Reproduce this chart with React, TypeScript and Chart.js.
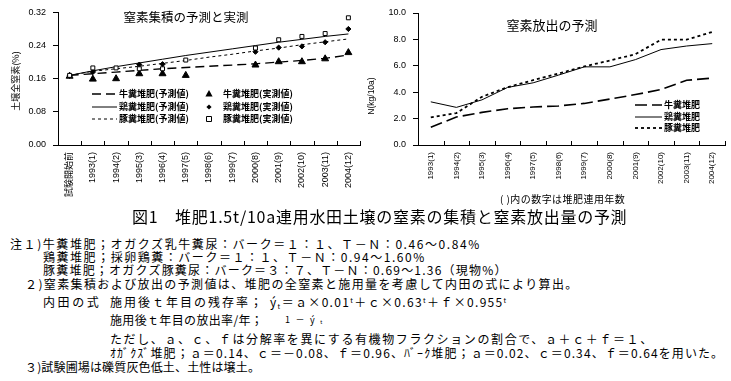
import React, { useEffect, useLayoutEffect, useRef } from 'react';
import { Chart, registerables } from 'chart.js';
Chart.register(...registerables);

// ---------- data: left chart (soil total N, %) ----------
const accCategories = ['試験開始前', '1993(1)', '1994(2)', '1995(3)', '1996(4)', '1997(5)', '1998(6)', '1999(7)', '2000(8)', '2001(9)', '2002(10)', '2003(11)', '2004(12)'];
const accYMin = 0;
const accYMax = 0.32;
const accYStep = 0.08;
const cattlePred = [0.168, 0.172, 0.176, 0.180, 0.184, 0.187, 0.190, 0.193, 0.196, 0.200, 0.204, 0.209, 0.217];
const chickenPred = [0.168, 0.179, 0.189, 0.198, 0.207, 0.216, 0.224, 0.232, 0.240, 0.248, 0.255, 0.262, 0.268];
const pigPred = [0.168, 0.178, 0.184, 0.190, 0.197, 0.204, 0.212, 0.219, 0.227, 0.234, 0.242, 0.249, 0.256];
const cattleObs = [0.166, 0.159, 0.160, 0.172, 0.172, 0.168, null, null, 0.193, 0.201, 0.201, 0.208, 0.223];
const chickenObs = [0.167, 0.176, null, 0.194, 0.195, null, null, null, 0.225, 0.235, 0.238, 0.248, 0.280];
const pigObs = [0.168, 0.186, 0.186, 0.184, 0.184, 0.205, null, null, 0.234, 0.254, 0.262, 0.269, 0.307];

// ---------- data: right chart (N release, kg/10a) ----------
const relCategories = ['1993(1)', '1994(2)', '1995(3)', '1996(4)', '1997(5)', '1998(6)', '1999(7)', '2000(8)', '2001(9)', '2002(10)', '2003(11)', '2004(12)'];
const relYMin = 0;
const relYMax = 10;
const relYStep = 2;
const cattleRel = [1.34, 2.12, 2.47, 2.75, 2.88, 2.96, 3.15, 3.48, 3.82, 4.2, 4.9, 5.07];
const chickenRel = [3.27, 2.85, 3.42, 4.36, 4.71, 5.3, 5.92, 5.92, 6.47, 7.23, 7.5, 7.68];
const pigRel = [2.09, 2.42, 3.65, 4.38, 4.91, 5.42, 5.95, 6.4, 6.88, 7.98, 7.98, 8.56];

// ---------- texts ----------
const accTitle = '窒素集積の予測と実測';
const accYTitle = '土壌全窒素(%)';
const accLegendPred = ['牛糞堆肥(予測値)', '鶏糞堆肥(予測値)', '豚糞堆肥(予測値)'];
const accLegendObs = ['牛糞堆肥(実測値)', '鶏糞堆肥(実測値)', '豚糞堆肥(実測値)'];
const relTitle = '窒素放出の予測';
const relYTitle = 'N(kg/10a)';
const relLegend = ['牛糞堆肥', '鶏糞堆肥', '豚糞堆肥'];
const relCaption = '( )内の数字は堆肥連用年数';

const TICK_FONT = '"Liberation Sans", "Noto Sans CJK JP", sans-serif';
const JP_FONT = '"Noto Sans CJK JP", "Liberation Sans", sans-serif';
const NOTE_FONT = '"Noto Sans CJK JP", sans-serif';

function drawLegendLine(ctx: CanvasRenderingContext2D, x1: number, x2: number, y: number, dash: number[], width: number) {
  ctx.save();
  ctx.setLineDash(dash);
  ctx.lineWidth = width;
  ctx.strokeStyle = '#000';
  ctx.beginPath();
  ctx.moveTo(x1, y);
  ctx.lineTo(x2, y);
  ctx.stroke();
  ctx.restore();
}

function drawMarker(ctx: CanvasRenderingContext2D, kind: string, x: number, y: number) {
  ctx.save();
  ctx.setLineDash([]);
  ctx.lineWidth = 1;
  ctx.strokeStyle = '#000';
  ctx.fillStyle = '#000';
  ctx.beginPath();
  if (kind === 'triangle') {
    ctx.moveTo(x, y - 4);
    ctx.lineTo(x + 3.6, y + 2.5);
    ctx.lineTo(x - 3.6, y + 2.5);
    ctx.closePath();
    ctx.fill();
  } else if (kind === 'diamond') {
    ctx.moveTo(x, y - 2.6);
    ctx.lineTo(x + 2.6, y);
    ctx.lineTo(x, y + 2.6);
    ctx.lineTo(x - 2.6, y);
    ctx.closePath();
    ctx.fill();
  } else {
    ctx.fillStyle = '#fff';
    ctx.rect(x - 2.5, y - 2.5, 5, 5);
    ctx.fill();
    ctx.stroke();
  }
  ctx.restore();
}

function drawInnerXTicks(chart: any) {
  const { ctx, chartArea: a } = chart;
  const xs = chart.scales.x;
  const n = xs.getLabels().length;
  ctx.save();
  ctx.strokeStyle = '#000';
  ctx.lineWidth = 1;
  ctx.setLineDash([]);
  ctx.beginPath();
  for (let i = 0; i < n; i++) {
    const c = xs.getPixelForValue(i);
    const half = n > 1 ? (xs.getPixelForValue(1) - xs.getPixelForValue(0)) / 2 : 0;
    const x = Math.round(c + half) + 0.5;
    ctx.moveTo(x, a.bottom);
    ctx.lineTo(x, a.bottom - 4);
  }
  ctx.stroke();
  ctx.restore();
}

const accDecor = {
  id: 'accDecor',
  afterDraw(chart: any) {
    const { ctx } = chart;
    drawInnerXTicks(chart);
    ctx.save();
    ctx.fillStyle = '#000';
    ctx.textBaseline = 'middle';
    // title
    ctx.font = `12.5px ${JP_FONT}`;
    ctx.textAlign = 'center';
    ctx.fillText(accTitle, 186, 17);
    // y title
    ctx.save();
    ctx.translate(16, 81);
    ctx.rotate(-Math.PI / 2);
    ctx.font = `9px ${JP_FONT}`;
    ctx.fillText(accYTitle, 0, 0);
    ctx.restore();
    // legend
    const rows = [94, 107, 119];
    const dashes = [[9, 5], [], [3, 3]];
    const widths = [1.3, 1, 1];
    const marks = ['triangle', 'diamond', 'square'];
    ctx.font = `bold 9px ${JP_FONT}`;
    ctx.textAlign = 'left';
    rows.forEach((ry, i) => {
      drawLegendLine(ctx, 92, 117, ry, dashes[i], widths[i]);
      ctx.fillText(accLegendPred[i], 119, ry);
      drawMarker(ctx, marks[i], 209, ry);
      ctx.fillText(accLegendObs[i], 223, ry);
    });
    ctx.restore();
  },
};

const relDecor = {
  id: 'relDecor',
  afterDraw(chart: any) {
    const { ctx } = chart;
    drawInnerXTicks(chart);
    ctx.save();
    ctx.fillStyle = '#000';
    ctx.textBaseline = 'middle';
    ctx.font = `13px ${JP_FONT}`;
    ctx.textAlign = 'center';
    ctx.fillText(relTitle, 192, 25);
    ctx.save();
    ctx.translate(12, 96);
    ctx.rotate(-Math.PI / 2);
    ctx.font = `8.5px ${TICK_FONT}`;
    ctx.fillText(relYTitle, 0, 0);
    ctx.restore();
    const rows = [105, 117, 128];
    const dashes = [[12, 5], [], [3, 3]];
    const widths = [1.6, 1, 1.8];
    ctx.font = `bold 9px ${JP_FONT}`;
    ctx.textAlign = 'left';
    rows.forEach((ry, i) => {
      drawLegendLine(ctx, 275, 302, ry, dashes[i], widths[i]);
      ctx.fillText(relLegend[i], 304, ry);
    });
    ctx.restore();
  },
};

function axisOpts(min: number, max: number, step: number, digits: number, labelSize: number) {
  return {
    x: {
      type: 'category' as const,
      offset: true,
      grid: { display: false, drawTicks: false },
      border: { display: true, color: '#000', width: 1 },
      ticks: { autoSkip: false, minRotation: 90, maxRotation: 90, padding: 7, color: '#000', font: { size: labelSize, family: TICK_FONT } },
      afterFit: (s: any) => { s.height = 55; },
    },
    y: {
      min, max,
      ticks: { stepSize: step, padding: 7, color: '#000', font: { size: 9, family: TICK_FONT }, callback: (v: any) => Number(v).toFixed(digits) },
      grid: { drawOnChartArea: false, drawTicks: true, tickLength: 5, color: '#000' },
      border: { display: true, color: '#000', width: 1 },
      afterFit: (s: any) => { s.width = 58; },
    },
  };
}

function AccChart() {
  const ref = useRef<HTMLCanvasElement>(null);
  useEffect(() => {
    if (!ref.current) return;
    const chart = new Chart(ref.current, {
      type: 'line',
      data: {
        labels: accCategories,
        datasets: [
          { label: 'pigObs', data: pigObs, showLine: false, pointStyle: 'rect', pointRadius: 2.8, backgroundColor: '#fff', borderColor: '#000', borderWidth: 1, order: 0 },
          { label: 'chickenObs', data: chickenObs, showLine: false, pointStyle: 'rectRot', pointRadius: 2.6, backgroundColor: '#000', borderColor: '#000', borderWidth: 1, order: 1 },
          { label: 'cattleObs', data: cattleObs, showLine: false, pointStyle: 'triangle', pointRadius: 4, backgroundColor: '#000', borderColor: '#000', borderWidth: 1, order: 2 },
          { label: 'cattlePred', data: cattlePred, borderColor: '#000', borderWidth: 1.3, borderDash: [9, 5], pointRadius: 0, tension: 0, fill: false, order: 5 },
          { label: 'chickenPred', data: chickenPred, borderColor: '#000', borderWidth: 1, pointRadius: 0, tension: 0, fill: false, order: 5 },
          { label: 'pigPred', data: pigPred, borderColor: '#000', borderWidth: 1, borderDash: [3, 3], pointRadius: 0, tension: 0, fill: false, order: 5 },
        ],
      },
      options: {
        responsive: false,
        animation: false,
        events: [],
        layout: { padding: { top: 10, right: 10, left: 0, bottom: 0 } },
        plugins: { legend: { display: false }, tooltip: { enabled: false } },
        scales: axisOpts(accYMin, accYMax, accYStep, 2, 9) as any,
      },
      plugins: [accDecor],
    });
    return () => chart.destroy();
  }, []);
  return <canvas ref={ref} width={370} height={200} style={{ position: 'absolute', left: 0, top: 0 }} />;
}

function RelChart() {
  const ref = useRef<HTMLCanvasElement>(null);
  useEffect(() => {
    if (!ref.current) return;
    const chart = new Chart(ref.current, {
      type: 'line',
      data: {
        labels: relCategories,
        datasets: [
          { label: 'cattle', data: cattleRel, borderColor: '#000', borderWidth: 1.6, borderDash: [12, 5], pointRadius: 0, tension: 0, fill: false },
          { label: 'chicken', data: chickenRel, borderColor: '#000', borderWidth: 1, pointRadius: 0, tension: 0, fill: false },
          { label: 'pig', data: pigRel, borderColor: '#000', borderWidth: 1.8, borderDash: [3, 3], pointRadius: 0, tension: 0, fill: false },
        ],
      },
      options: {
        responsive: false,
        animation: false,
        events: [],
        layout: { padding: { top: 13, right: 6, left: 0, bottom: 0 } },
        plugins: { legend: { display: false }, tooltip: { enabled: false } },
        scales: axisOpts(relYMin, relYMax, relYStep, 1, 8) as any,
      },
      plugins: [relDecor],
    });
    return () => chart.destroy();
  }, []);
  return <canvas ref={ref} width={371} height={200} style={{ position: 'absolute', left: 360, top: 0 }} />;
}

function FitLine({ x, y, w, size, children }: { x: number; y: number; w: number; size: number; children: React.ReactNode }) {
  const ref = useRef<HTMLSpanElement>(null);
  useLayoutEffect(() => {
    const el = ref.current;
    if (!el) return;
    el.style.letterSpacing = '0px';
    const nat = el.getBoundingClientRect().width;
    const n = Array.from(el.textContent || '').length;
    if (n > 1) el.style.letterSpacing = (w - nat) / (n - 0.5) + 'px';
  }, [w]);
  return (
    <span
      ref={ref}
      style={{
        position: 'absolute', left: x, top: y - size * 0.6, fontSize: size, lineHeight: `${size * 1.2}px`,
        whiteSpace: 'nowrap', fontFamily: NOTE_FONT, color: '#000',
      }}
    >
      {children}
    </span>
  );
}

const Sup = ({ c }: { c: string }) => <span style={{ fontSize: '0.6em', position: 'relative', top: '-0.55em' }}>{c}</span>;
const Sub = ({ c }: { c: string }) => <span style={{ fontSize: '0.6em', position: 'relative', top: '0.3em' }}>{c}</span>;

export default function App() {
  return (
    <div style={{ position: 'absolute', left: 0, top: 0, width: 731, height: 381, background: '#fff', overflow: 'hidden' }}>
      <AccChart />
      <RelChart />
      <FitLine x={500} y={199} w={125} size={10}>{relCaption}</FitLine>
      <FitLine x={132} y={217} w={495} size={16}>図1　堆肥1.5t/10a連用水田土壌の窒素の集積と窒素放出量の予測</FitLine>
      <FitLine x={10} y={244} w={470} size={12}>注１)牛糞堆肥；オガクズ乳牛糞尿：バーク＝１：１、Ｔ－Ｎ：0.46～0.84%</FitLine>
      <FitLine x={43} y={257} w={382} size={12}>鶏糞堆肥；採卵鶏糞：バーク＝１：１、Ｔ－Ｎ：0.94～1.60%</FitLine>
      <FitLine x={43} y={270} w={464} size={12}>豚糞堆肥；オガクズ豚糞尿：バーク＝３：７、Ｔ－Ｎ：0.69～1.36（現物%）</FitLine>
      <FitLine x={25} y={284} w={553} size={12}>２)窒素集積および放出の予測値は、堆肥の全窒素と施用量を考慮して内田の式により算出。</FitLine>
      <FitLine x={43} y={302} w={57} size={12}>内田の式</FitLine>
      <FitLine x={110} y={302} w={153} size={12}>施用後ｔ年目の残存率；</FitLine>
      <FitLine x={270} y={302} w={237} size={12}>ý<Sub c="t" />＝ａ×0.01<Sup c="t" />＋ｃ×0.63<Sup c="t" />＋ｆ×0.955<Sup c="t" /></FitLine>
      <FitLine x={110} y={320} w={153} size={12}>施用後ｔ年目の放出率/年；</FitLine>
      <FitLine x={285} y={320} w={40} size={9}>1－ý<Sub c="t" /></FitLine>
      <FitLine x={110} y={339} w={543} size={12}>ただし、ａ、ｃ、ｆは分解率を異にする有機物フラクションの割合で、ａ＋ｃ＋ｆ＝１、</FitLine>
      <FitLine x={110} y={353} w={617} size={12}>ｵｶﾞｸｽﾞ堆肥；ａ＝0.14、ｃ＝－0.08、ｆ＝0.96、ﾊﾞｰｸ堆肥；ａ＝0.02、ｃ＝0.34、ｆ＝0.64を用いた。</FitLine>
      <FitLine x={25} y={367} w={235} size={12}>３)試験圃場は礫質灰色低土、土性は壌土。</FitLine>
    </div>
  );
}
